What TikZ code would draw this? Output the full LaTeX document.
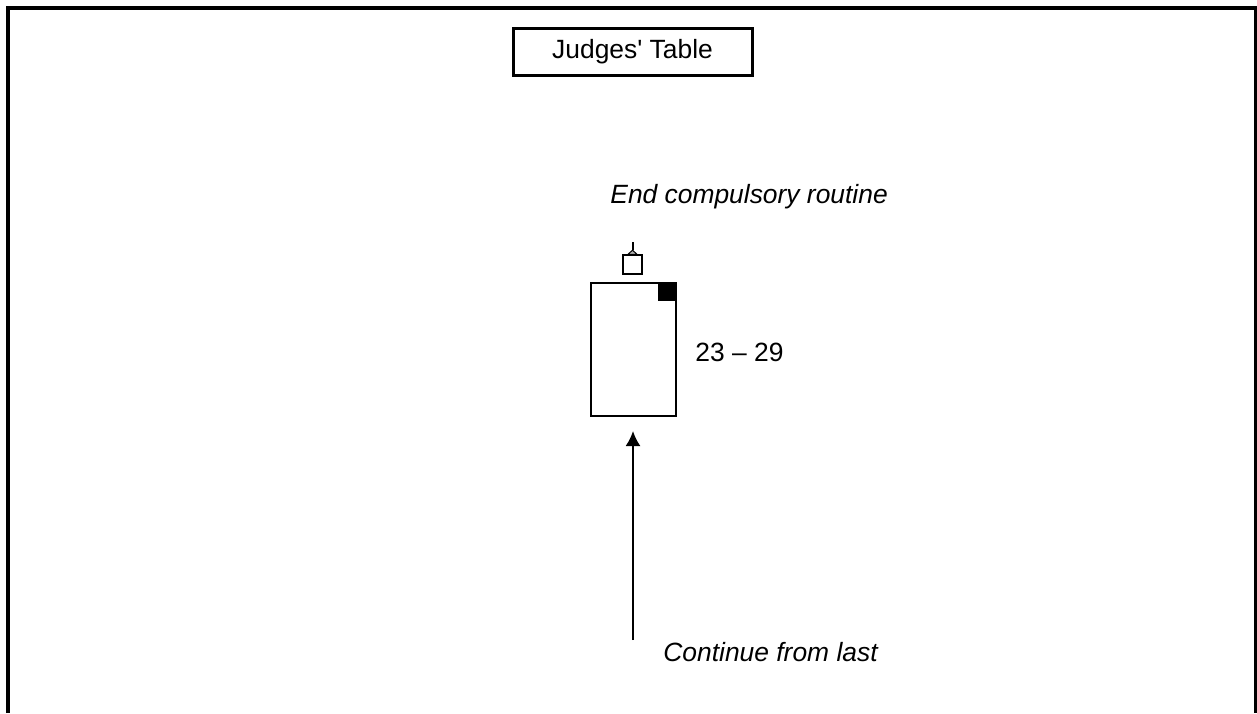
\documentclass[tikz,border=0pt]{standalone}
\usepackage{fontspec}
\setmainfont{Liberation Sans}
\usepackage{tikz}
\usetikzlibrary{arrows.meta}
\usetikzlibrary{positioning}

\begin{document}
\begin{tikzpicture}[x=0.5pt, y=-0.5pt,
    every node/.style={font=\fontsize{13.2}{15}\selectfont, inner sep=0},
    frame/.style={line width=1.75pt},
    tablebox/.style={draw, line width=1.5pt, minimum width=119.5pt, minimum height=23.5pt},
    card/.style={draw, line width=1pt, minimum width=42.5pt, minimum height=66.5pt},
    marker/.style={draw, line width=0.75pt, minimum size=9.5pt},
    note/.style={font=\fontsize{13.2}{15}\selectfont\itshape, anchor=base west},
    arrow/.style={line width=1pt, -{Latex[length=7.5pt, width=7.5pt]}}]
    \useasboundingbox (0, 0) rectangle (1257, 713);

    \draw [frame] (8, 713) -- (8, 8) -- (1255.5, 8) -- (1255.5, 713);

    \node [tablebox] (judges) at (632.5, 51.5) {Judges\textquotesingle\ Table};

    \node [note] (endnote) at (610, 203) {End compulsory routine};

    \node [marker] (marker) at (632.5, 264.5) {};
    \coordinate (stalk) at (632.5, 242);
    \draw [line width=1pt] (stalk) -- ([yshift=2pt]marker.north);
    \draw [line width=0.5pt, fill=gray!60] ([xshift=-2.25pt]marker.north) -- ([yshift=2pt]marker.north) -- ([xshift=2.25pt]marker.north) -- cycle;

    \node [card] (card) at (633, 349.5) {};
    \fill (card.north east) rectangle ++(-19, 19);

    \node [anchor=base west] (range) at (695, 361) {23 -- 29};

    \coordinate (start) at (633, 640);
    \draw [arrow, shorten >=7pt] (start) -- (card.south);

    \node [note] (contnote) at (663, 661) {Continue from last};
  \end{tikzpicture}
\end{document}
